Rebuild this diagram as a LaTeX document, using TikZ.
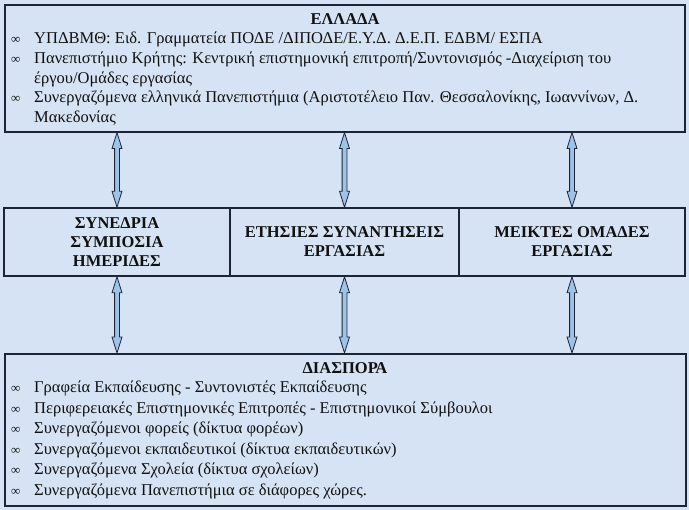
\documentclass[tikz,border=0pt]{standalone}
\usepackage{fontspec}
\setmainfont{Liberation Serif}
\usetikzlibrary{calc}
\definecolor{bg}{HTML}{D6E3F4}
\definecolor{frame}{HTML}{1C2537}
\definecolor{arrfill}{HTML}{9DC3E6}
\definecolor{ink}{HTML}{111111}
\newcommand\bul{\makebox[23pt][l]{\raisebox{0.5pt}{\fontsize{13}{13}\selectfont ∞}}}
\newcommand\dbarrow[2]{\draw[arrowshape] let \p1=(#1), \p2=(#2) in
  (\x1,\y1) -- (\x1+5pt,\y1-16pt) -- (\x1+2.4pt,\y1-16pt) -- (\x2+2.4pt,\y2+16pt) -- (\x2+5pt,\y2+16pt)
  -- (\x2,\y2) -- (\x2-5pt,\y2+16pt) -- (\x2-2.4pt,\y2+16pt) -- (\x1-2.4pt,\y1-16pt) -- (\x1-5pt,\y1-16pt) -- cycle;}
\tikzset{
  box/.style={draw=frame, line width=1.6pt, inner sep=0pt, anchor=north west},
  line/.style={anchor=base west, inner sep=0pt, text=ink, font=\fontsize{16.5}{19}\selectfont},
  title/.style={inner sep=0pt, text=ink, font=\fontsize{16.5}{19}\selectfont\bfseries},
  cell/.style={draw=frame, line width=1.6pt, inner sep=0pt, align=center, text=ink, font=\fontsize{16.5}{19}\selectfont\bfseries},
  arrowshape/.style={draw=frame, line width=0.8pt, fill=arrfill, line join=miter}
}
\begin{document}
\begin{tikzpicture}[x=1pt,y=-1pt]
\fill[bg] (0,0) rectangle (689,510);
\useasboundingbox (0,0) rectangle (689,510);
% top box
\node[box, minimum width=680pt, minimum height=127pt] (top) at (4,4) {};
\node[title] (ttop) at (345,19) {ΕΛΛΑΔΑ};
\node[line] (l1) at (11,44) {\bul ΥΠΔΒΜΘ: Ειδ. Γραμματεία ΠΟΔΕ /ΔΙΠΟΔΕ/Ε.Υ.Δ. Δ.Ε.Π. ΕΔΒΜ/ ΕΣΠΑ};
\node[line] (l2) at (11,64) {\bul Πανεπιστήμιο Κρήτης: Κεντρική επιστημονική επιτροπή/Συντονισμός -Διαχείριση του};
\node[line] (l3) at (34,84) {έργου/Ομάδες εργασίας};
\node[line] (l4) at (11,103) {\bul Συνεργαζόμενα ελληνικά Πανεπιστήμια (Αριστοτέλειο Παν. Θεσσαλονίκης, Ιωαννίνων, Δ.};
\node[line] (l5) at (34,123) {Μακεδονίας};
% middle row
\node[cell, minimum width=226pt, minimum height=68pt] (m1) at (117,242) {ΣΥΝΕΔΡΙΑ\\ΣΥΜΠΟΣΙΑ\\ΗΜΕΡΙΔΕΣ};
\node[cell, minimum width=229pt, minimum height=68pt] (m2) at (344.5,242) {ΕΤΗΣΙΕΣ ΣΥΝΑΝΤΗΣΕΙΣ\\ΕΡΓΑΣΙΑΣ};
\node[cell, minimum width=226pt, minimum height=68pt] (m3) at (572,242) {ΜΕΙΚΤΕΣ ΟΜΑΔΕΣ\\ΕΡΓΑΣΙΑΣ};
% bottom box
\node[box, minimum width=681pt, minimum height=152pt] (bot) at (4,353) {};
\node[title] (tbot) at (345,368) {ΔΙΑΣΠΟΡΑ};
\node[line] (d1) at (11,393) {\bul Γραφεία Εκπαίδευσης - Συντονιστές Εκπαίδευσης};
\node[line] (d2) at (11,414) {\bul Περιφερειακές Επιστημονικές Επιτροπές - Επιστημονικοί Σύμβουλοι};
\node[line] (d3) at (11,434) {\bul Συνεργαζόμενοι φορείς (δίκτυα φορέων)};
\node[line] (d4) at (11,455) {\bul Συνεργαζόμενοι εκπαιδευτικοί (δίκτυα εκπαιδευτικών)};
\node[line] (d5) at (11,475) {\bul Συνεργαζόμενα Σχολεία (δίκτυα σχολείων)};
\node[line] (d6) at (11,496) {\bul Συνεργαζόμενα Πανεπιστήμια σε διάφορες χώρες.};
% arrows
\dbarrow{top.south -| m1.north}{m1.north}
\dbarrow{top.south -| m2.north}{m2.north}
\dbarrow{top.south -| m3.north}{m3.north}
\dbarrow{m1.south}{bot.north -| m1.south}
\dbarrow{m2.south}{bot.north -| m2.south}
\dbarrow{m3.south}{bot.north -| m3.south}
\end{tikzpicture}
\end{document}
